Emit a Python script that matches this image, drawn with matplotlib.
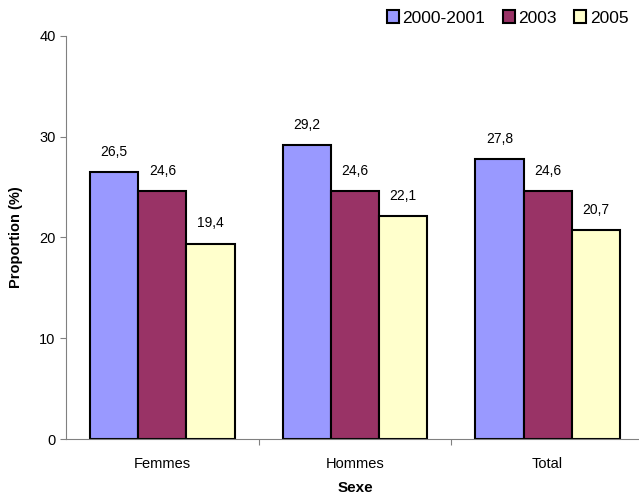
import matplotlib
matplotlib.use("Agg")
import matplotlib.pyplot as plt
import numpy as np
from matplotlib.patches import Patch

plt.rcParams['font.family'] = ['Liberation Sans', 'DejaVu Sans']

categories = ['Femmes', 'Hommes', 'Total']
years = ['2000-2001', '2003', '2005']
values = {
    '2000-2001': [26.5, 29.2, 27.8],
    '2003': [24.6, 24.6, 24.6],
    '2005': [19.4, 22.1, 20.7],
}
colors = ['#9999FF', '#993366', '#FFFFCC']

fig = plt.figure(figsize=(6.39, 4.94), dpi=100)
ax = fig.add_axes([66 / 639, 1 - 439 / 494, 578 / 639, 403 / 494])

x = np.arange(len(categories))
w = 0.25
for i, (yr, c) in enumerate(zip(years, colors)):
    vals = values[yr]
    pos = x + (i - 1) * w
    ax.bar(pos, vals, width=w, color=c, edgecolor='black', linewidth=1.5)
    for p, v in zip(pos, vals):
        ax.text(p, v + 1.3, f'{v:.1f}'.replace('.', ','), ha='center', va='bottom',
                fontsize=10)

ax.set_xlim(-0.5, 2.5)
ax.set_ylim(0, 40)
ax.set_yticks([0, 10, 20, 30, 40])
ax.tick_params(axis='y', labelsize=10.5, length=4, color='#808080', direction='out')
ax.set_xticks([0.5, 1.5], minor=False)
ax.set_xticklabels([])
ax.tick_params(axis='x', length=4, color='#808080', direction='out')
ax.set_xticks(x, minor=True)
ax.set_xticklabels(categories, minor=True, fontsize=10.5)
ax.tick_params(axis='x', which='minor', length=0, pad=13)

for s in ['top', 'right']:
    ax.spines[s].set_visible(False)
for s in ['left', 'bottom']:
    ax.spines[s].set_color('#808080')

ax.set_xlabel('Sexe', fontsize=11, fontweight='bold', labelpad=7)
ax.set_ylabel('Proportion (%)', fontsize=10.5, fontweight='bold', labelpad=12)

handles = [Patch(facecolor=c, edgecolor='black', linewidth=1.5, label=yr)
           for yr, c in zip(years, colors)]
fig.legend(handles=handles, loc='upper right', bbox_to_anchor=(1.0, 1.0),
           ncol=3, frameon=False, fontsize=12.5, handlelength=0.7, handleheight=0.7,
           handletextpad=0.2, columnspacing=1.0, borderaxespad=0.2)

fig.savefig('out.png', dpi=100)
